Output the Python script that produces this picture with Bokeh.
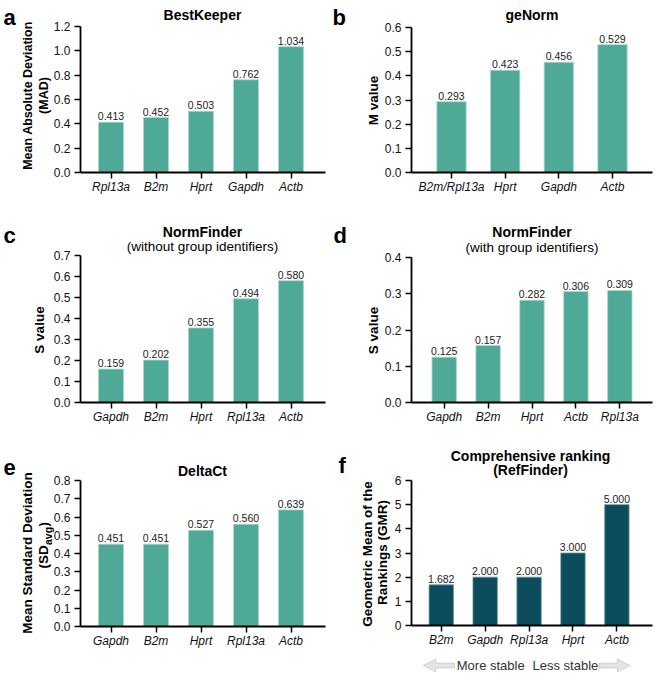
import math
from bokeh.plotting import figure
from bokeh.models import (FixedTicker, PrintfTickFormatter, Label, PolyAnnotation,
                          ColumnDataSource, Range1d)
from bokeh.layouts import column, row
from bokeh.embed import file_html
from bokeh.resources import INLINE
from bokeh.core.properties import value

FONT = "Liberation Sans"

# ---------------- data ----------------
a_genes = ["Rpl13a", "B2m", "Hprt", "Gapdh", "Actb"]
a_vals = [0.413, 0.452, 0.503, 0.762, 1.034]

b_genes = ["B2m/Rpl13a", "Hprt", "Gapdh", "Actb"]
b_vals = [0.293, 0.423, 0.456, 0.529]

c_genes = ["Gapdh", "B2m", "Hprt", "Rpl13a", "Actb"]
c_vals = [0.159, 0.202, 0.355, 0.494, 0.580]

d_genes = ["Gapdh", "B2m", "Hprt", "Actb", "Rpl13a"]
d_vals = [0.125, 0.157, 0.282, 0.306, 0.309]

e_genes = ["Gapdh", "B2m", "Hprt", "Rpl13a", "Actb"]
e_vals = [0.451, 0.451, 0.527, 0.560, 0.639]

f_genes = ["B2m", "Gapdh", "Rpl13a", "Hprt", "Actb"]
f_vals = [1.682, 2.000, 2.000, 3.000, 5.000]

a_yticks = [0.0, 0.2, 0.4, 0.6, 0.8, 1.0, 1.2]
b_yticks = [0.0, 0.1, 0.2, 0.3, 0.4, 0.5, 0.6]
c_yticks = [0.0, 0.1, 0.2, 0.3, 0.4, 0.5, 0.6, 0.7]
d_yticks = [0.0, 0.1, 0.2, 0.3, 0.4]
e_yticks = [0.0, 0.1, 0.2, 0.3, 0.4, 0.5, 0.6, 0.7, 0.8]
f_yticks = [0, 1, 2, 3, 4, 5, 6]

TEAL = "#4ea996"
TEAL_EDGE = "#a9d8cc"
DARK = "#0c4d5d"
DARK_EDGE = "#6f959e"

UP = math.pi / 2
TITLE = "14px"


class Panel:
    """A figure whose frame fills the whole canvas; axes are pinned inside it."""

    def __init__(self, genes, vals, W, H, ax_l, ax_r, y_top, y_bot, c0, step,
                 bar_px, yticks, yfmt, color, edge):
        self.W, self.H = W, H
        ymax = yticks[-1]
        self.xd = lambda px: (px - c0) / step
        self.yd = lambda py: ymax * (y_bot - py) / (y_bot - y_top)
        p = figure(width=W, height=H, output_backend="svg", toolbar_location=None,
                   x_range=Range1d(self.xd(0), self.xd(W)),
                   y_range=Range1d(self.yd(H), self.yd(0)),
                   min_border=0, min_border_left=0, min_border_right=0,
                   min_border_top=0, min_border_bottom=0)
        p.outline_line_color = None
        p.grid.visible = False
        p.background_fill_color = "white"
        p.border_fill_color = "white"
        xs = list(range(len(genes)))
        src = ColumnDataSource(dict(x=xs, top=vals, lab=[f"{v:.3f}" for v in vals]))
        p.vbar(x="x", top="top", bottom=0, width=bar_px / step, source=src,
               fill_color=color, line_color=edge, line_width=0.8)
        p.text(x="x", y="top", text="lab", source=src, text_align="center",
               text_baseline="bottom", y_offset=-2, text_font=value(FONT),
               text_font_size="10.5px", text_color="#222222")
        xa = p.xaxis[0]
        ya = p.yaxis[0]
        xa.fixed_location = 0
        xa.bounds = (self.xd(ax_l), self.xd(ax_r))
        ya.fixed_location = self.xd(ax_l)
        ya.bounds = (0, ymax)
        xa.ticker = FixedTicker(ticks=xs)
        xa.major_label_overrides = {i: g for i, g in enumerate(genes)}
        xa.major_label_text_font_style = "italic"
        xa.major_label_standoff = 1
        ya.ticker = FixedTicker(ticks=yticks)
        ya.formatter = PrintfTickFormatter(format=yfmt)
        ya.major_label_standoff = 4
        for ax in (xa, ya):
            ax.axis_line_color = "black"
            ax.axis_line_width = 1.8
            ax.major_tick_line_color = "black"
            ax.major_tick_line_width = 1.5
            ax.major_tick_out = 6
            ax.major_tick_in = 0
            ax.minor_tick_line_color = None
            ax.major_label_text_font = FONT
            ax.major_label_text_font_size = "12px"
            ax.major_label_text_color = "#111111"
        self.p = p

    def lab(self, text, px, py, size="13.5px", style="bold", angle=0.0,
            align="center", baseline="middle", color="#000000"):
        self.p.add_layout(Label(x=px, y=self.H - py, x_units="screen",
                                y_units="screen", text=text, text_font=FONT,
                                text_font_size=size, text_font_style=style,
                                text_align=align, text_baseline=baseline,
                                angle=angle, text_color=color))

    def letter(self, text, px, py):
        self.lab(text, px, py, size="22px", align="left", baseline="alphabetic")

    def poly(self, pxs, pys):
        self.p.add_layout(PolyAnnotation(
            xs=pxs, ys=[self.H - v for v in pys], xs_units="screen",
            ys_units="screen", fill_color="#e4e4e4", fill_alpha=1.0,
            line_color="#8a8a8a", line_width=1))


LW, RW = 327, 326
H1, H2, H3 = 222, 223, 228
K = 241 / 247  # horizontal compression of right-hand panels
RA = 84        # right panels: y-axis position
RE = 325       # right panels: x-axis end


def rx(ref_off):
    """offset from the reference axis (right column) -> local px"""
    return RA + ref_off * K


# ---- a ----
A = Panel(a_genes, a_vals, LW, H1, 80, 325, 26, 172, 110.5, 45, 25,
          a_yticks, "%.1f", TEAL, TEAL_EDGE)
A.letter("a", 3, 17)
A.lab("BestKeeper", 202, 14, size=TITLE)
A.lab("Mean Absolute Deviation", 27, 95, size="12.5px", angle=UP)
A.lab("(MAD)", 43, 95, size="12.5px", angle=UP)

# ---- b ----
B = Panel(b_genes, b_vals, RW, H1, RA, RE, 27, 172, rx(41), 55 * K, 30 * K,
          b_yticks, "%.1f", TEAL, TEAL_EDGE)
B.letter("b", 5, 17)
B.lab("geNorm", (RA + RE) / 2, 14, size=TITLE)
B.lab("M value", 46, 100, angle=UP)

# ---- c ----
C = Panel(c_genes, c_vals, LW, H2, 80, 325, 33, 180, 110.5, 45, 25,
          c_yticks, "%.1f", TEAL, TEAL_EDGE)
C.letter("c", 3, 13)
C.lab("NormFinder", 202, 9, size=TITLE)
C.lab("(without group identifiers)", 202, 24, style="normal")
C.lab("S value", 39, 107.5, angle=UP)

# ---- d ----
D = Panel(d_genes, d_vals, RW, H2, RA, RE, 35, 180, rx(33.5), 45 * K, 25 * K,
          d_yticks, "%.1f", TEAL, TEAL_EDGE)
D.letter("d", 6, 13)
D.lab("NormFinder", (RA + RE) / 2, 9.5, size=TITLE)
D.lab("(with group identifiers)", (RA + RE) / 2, 25, style="normal")
D.lab("S value", 46, 108, angle=UP)

# ---- e ----
E = Panel(e_genes, e_vals, LW, H3, 80, 325, 35, 181, 110.5, 45, 25,
          e_yticks, "%.1f", TEAL, TEAL_EDGE)
E.letter("e", 3, 22)
E.lab("DeltaCt", 202, 25, size=TITLE)
E.lab("Mean Standard Deviation", 27, 107.5, angle=UP)
l2_start = 100 + 23
E.lab("(SD", 43, l2_start, angle=UP, align="left")
E.lab("avg", 47.5, l2_start - 23.5, size="10.5px", angle=UP, align="left")
E.lab(")", 43, l2_start - 23.5 - 18.5, angle=UP, align="left")

# ---- f ----
F = Panel(f_genes, f_vals, RW, H3, RA, RE, 35, 180, rx(30.5), 45 * K, 25 * K,
          f_yticks, "%d", DARK, DARK_EDGE)
F.letter("f", 11, 20)
F.lab("Comprehensive ranking", 203, 10, size=TITLE)
F.lab("(RefFinder)", 203, 24, size=TITLE)
F.lab("Geometric Mean of the", 40, 108.5, angle=UP)
F.lab("Rankings (GMR)", 55, 107, angle=UP)

ay = 220
F.poly([rx(12), rx(25), rx(25), rx(44), rx(44), rx(25), rx(25)],
       [ay, ay - 6.5, ay - 2.5, ay - 2.5, ay + 2.5, ay + 2.5, ay + 6.5])
F.poly([rx(224), rx(211), rx(211), rx(192), rx(192), rx(211), rx(211)],
       [ay, ay - 6.5, ay - 2.5, ay - 2.5, ay + 2.5, ay + 2.5, ay + 6.5])
F.lab("More stable", rx(116), ay, size="13px", style="normal", align="right",
      color="#333333")
F.lab("Less stable", rx(124), ay, size="13px", style="normal", align="left",
      color="#333333")

layout = column(row(A.p, B.p), row(C.p, D.p), row(E.p, F.p))
open("out.html", "w").write(file_html(layout, INLINE))
